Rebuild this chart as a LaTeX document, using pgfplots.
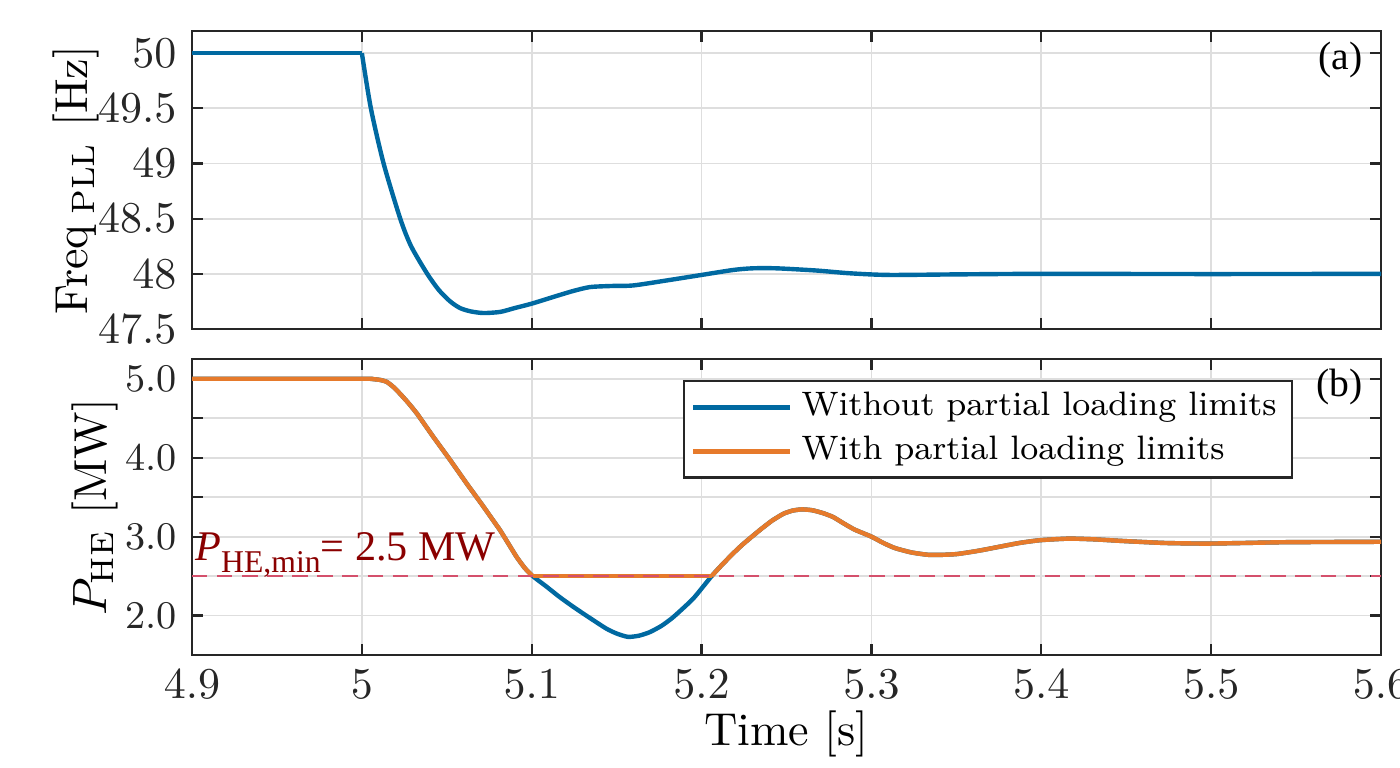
\documentclass[border=0pt]{standalone}
\usepackage{fontspec}
\usepackage{pgfplots}
\pgfplotsset{compat=1.18}
\newfontfamily\timesf{Liberation Serif}

\definecolor{cblue}{HTML}{0069A1}
\definecolor{corange}{HTML}{E67A2B}
\definecolor{climit}{HTML}{D4506C}
\definecolor{cannot}{HTML}{8A0000}
\definecolor{caxis}{HTML}{262626}

\pgfplotsset{
  panel/.style={
    scale only axis, width=270.25pt,
    xmin=4.9, xmax=5.6,
    xtick={4.9,5.0,5.1,5.2,5.3,5.4,5.5,5.6},
    tick align=inside, major tick length=2.6pt,
    xtick pos=both, ytick pos=both,
    grid=major, major grid style={draw=black!13, line width=0.4pt},
    axis line style={draw=caxis, line width=0.5pt},
    every tick/.style={draw=caxis, line width=0.5pt},
    tick label style={text=caxis},
    scaled ticks=false,
    label style={text=black, font=\fontsize{10.5}{12}\selectfont},
  },
  trace/.style={line width=1pt, line join=round},
}

\begin{document}
\begin{tikzpicture}
  % (a) PLL frequency
  \begin{axis}[panel,
      at={(43.64pt,-74.78pt)}, anchor=south west, height=67.73pt,
      ymin=47.5, ymax=50.2,
      ytick={47.5,48,48.5,49,49.5,50},
      xticklabels={},
      yticklabel style={font=\fontsize{10}{12}\selectfont},
      ylabel={Freq$_{\;\mathrm{PLL}}$ [Hz]},
      ylabel style={at={(axis description cs:-0.0976,0.5)}, anchor=center}]
    \addplot[cblue, trace] coordinates {(4.9,50.0) (5.0,50.0)};
    \addplot[cblue, trace, smooth, tension=0.45] coordinates {
      (5.0,50.0) (5.0053,49.5) (5.0128,49.0) (5.0226,48.5) (5.029,48.25)
      (5.0385,48.0) (5.0455,47.85) (5.052,47.75) (5.0578,47.69) (5.064,47.66)
      (5.0716,47.645) (5.0814,47.655) (5.09,47.69) (5.1,47.73) (5.1147,47.80)
      (5.1245,47.845) (5.1343,47.88) (5.147,47.89) (5.1598,47.895) (5.1794,47.94)
      (5.2,47.99) (5.2186,48.035) (5.2300,48.05) (5.2441,48.05) (5.2676,48.03)
      (5.2873,48.005) (5.31,47.99) (5.35,47.995) (5.4,48.0) (5.5,47.998)
      (5.6,48.0)};
    \node[anchor=east, inner sep=0pt, font=\timesf\fontsize{9}{10}\selectfont]
      at (rel axis cs:0.985,0.903) {(a)};
  \end{axis}

  % (b) HE power
  \begin{axis}[panel,
      at={(43.64pt,-148.88pt)}, anchor=south west, height=67.28pt,
      ymin=1.5, ymax=5.25,
      ytick={2,2.5,3,3.5,4,4.5,5},
      yticklabels={2.0,,3.0,,4.0,,5.0},
      yticklabel style={font=\fontsize{8.9}{10}\selectfont},
      xticklabel style={font=\fontsize{10}{12}\selectfont},
      xlabel={Time [s]},
      xlabel style={at={(axis description cs:0.5,-0.267)}, anchor=center},
      ylabel={$P_{\mathrm{HE}}$ [MW]},
      ylabel style={at={(axis description cs:-0.0816,0.5)}, anchor=center},
      legend cell align=left,
      legend style={at={(rel axis cs:0.926,0.929)}, anchor=north east,
        draw=caxis, line width=0.5pt, fill=white,
        font=\fontsize{7.7}{9}\selectfont,
        inner xsep=1.5pt, inner ysep=0.5pt, row sep=-0.8pt},
      legend image code/.code={\draw[#1, line width=1.2pt] (0pt,0pt) -- (22pt,0pt);}]
    \addplot[cblue, trace, smooth, tension=0.35] coordinates {
      (4.9,5.0) (5.0,5.0) (5.005,5.0) (5.0069,4.995) (5.0108,4.985) (5.0147,4.96)
      (5.0186,4.895) (5.0225,4.81) (5.0275,4.69) (5.0324,4.56) (5.0373,4.41)
      (5.0422,4.26) (5.0471,4.115) (5.052,3.97) (5.0569,3.82) (5.0618,3.67)
      (5.0667,3.525) (5.0716,3.38) (5.0765,3.23) (5.0814,3.08) (5.0863,2.91)
      (5.0912,2.74) (5.096,2.6) (5.1006,2.5)
      (5.1085,2.37) (5.1163,2.237) (5.1242,2.115) (5.1321,2.0) (5.1439,1.835)
      (5.1503,1.77) (5.1567,1.73) (5.1631,1.745) (5.1695,1.79) (5.1764,1.87)
      (5.1833,1.98) (5.1951,2.216) (5.2059,2.5)
      (5.2123,2.65) (5.2187,2.79) (5.2236,2.89) (5.2285,2.98) (5.2344,3.085)
      (5.2413,3.2) (5.2482,3.29) (5.2536,3.33) (5.259,3.345) (5.265,3.335)
      (5.2712,3.3) (5.2773,3.25) (5.2835,3.17) (5.29,3.09) (5.3,3.0)
      (5.307,2.92) (5.3139,2.855) (5.3235,2.8) (5.3334,2.77) (5.342,2.77)
      (5.3505,2.78) (5.3627,2.82) (5.3749,2.87) (5.3871,2.92) (5.3993,2.955)
      (5.4163,2.975) (5.432,2.965) (5.448,2.945) (5.4724,2.92) (5.4968,2.912)
      (5.52,2.92) (5.5456,2.93) (5.6,2.935)};
    \addlegendentry{Without partial loading limits}
    \addplot[corange, trace, smooth, tension=0.35] coordinates {
      (4.9,5.0) (5.0,5.0) (5.005,5.0) (5.0069,4.995) (5.0108,4.985) (5.0147,4.96)
      (5.0186,4.895) (5.0225,4.81) (5.0275,4.69) (5.0324,4.56) (5.0373,4.41)
      (5.0422,4.26) (5.0471,4.115) (5.052,3.97) (5.0569,3.82) (5.0618,3.67)
      (5.0667,3.525) (5.0716,3.38) (5.0765,3.23) (5.0814,3.08) (5.0863,2.91)
      (5.0912,2.74) (5.096,2.6) (5.1006,2.5)};
    \addlegendentry{With partial loading limits}
    \addplot[corange, trace, forget plot] coordinates {(5.1006,2.5) (5.2059,2.5)};
    \addplot[corange, trace, smooth, tension=0.35, forget plot] coordinates {
      (5.2059,2.5)
      (5.2123,2.65) (5.2187,2.79) (5.2236,2.89) (5.2285,2.98) (5.2344,3.085)
      (5.2413,3.2) (5.2482,3.29) (5.2536,3.33) (5.259,3.345) (5.265,3.335)
      (5.2712,3.3) (5.2773,3.25) (5.2835,3.17) (5.29,3.09) (5.3,3.0)
      (5.307,2.92) (5.3139,2.855) (5.3235,2.8) (5.3334,2.77) (5.342,2.77)
      (5.3505,2.78) (5.3627,2.82) (5.3749,2.87) (5.3871,2.92) (5.3993,2.955)
      (5.4163,2.975) (5.432,2.965) (5.448,2.945) (5.4724,2.92) (5.4968,2.912)
      (5.52,2.92) (5.5456,2.93) (5.6,2.935)};
    \addplot[climit, line width=0.5pt, dash pattern=on 3.5pt off 2.2pt, forget plot]
      coordinates {(4.9,2.5) (5.6,2.5)};
    \node[anchor=base west, inner sep=0pt, text=cannot,
      font=\timesf\fontsize{9.6}{11}\selectfont]
      at (axis cs:4.9015,2.70)
      {\textit{P}\raisebox{-0.3em}{\fontsize{7.2}{8}\selectfont HE,min}= 2.5 MW};
    \node[anchor=east, inner sep=0pt, font=\timesf\fontsize{9}{10}\selectfont]
      at (rel axis cs:0.985,0.905) {(b)};
  \end{axis}

  \pgfresetboundingbox
  \path (0pt,0pt) rectangle (318.2pt,-174.33pt);
\end{tikzpicture}
\end{document}
